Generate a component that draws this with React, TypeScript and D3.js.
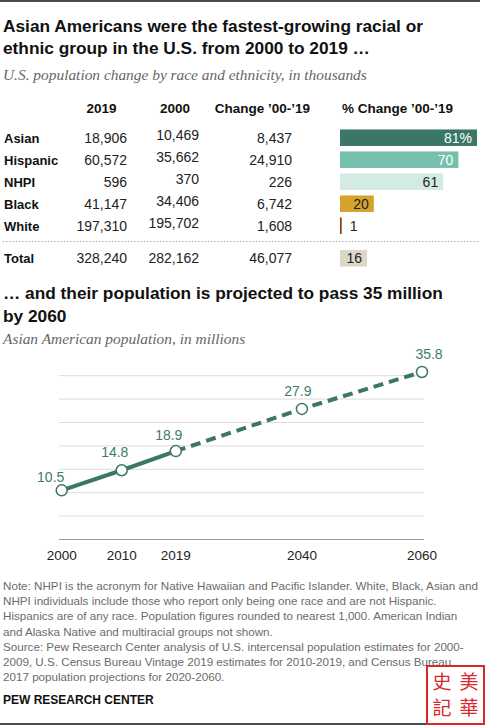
import React from 'react';
import * as d3 from 'd3';

// ---------- DATA ----------
const groups = ['Asian', 'Hispanic', 'NHPI', 'Black', 'White'];
const pop2019 = [18906, 60572, 596, 41147, 197310];
const pop2000 = [10469, 35662, 370, 34406, 195702];
const popChange = [8437, 24910, 226, 6742, 1608];
const pctChange = [81, 70, 61, 20, 1];
const totalLabel = 'Total';
const total2019 = 328240;
const total2000 = 282162;
const totalChange = 46077;
const totalPct = 16;

const years = [2000, 2010, 2019, 2040, 2060];
const asianPop = [10.5, 14.8, 18.9, 27.9, 35.8];
const lastEstimateYear = 2019;
const yTicks = [0, 5, 10, 15, 20, 25, 30, 35];

const headers = ['2019', '2000', 'Change ’00-’19', '% Change ’00-’19'];

const noteLines = [
  'Note: NHPI is the acronym for Native Hawaiian and Pacific Islander. White, Black, Asian and',
  'NHPI individuals include those who report only being one race and are not Hispanic.',
  'Hispanics are of any race. Population figures rounded to nearest 1,000. American Indian',
  'and Alaska Native and multiracial groups not shown.',
  'Source: Pew Research Center analysis of U.S. intercensal population estimates for 2000-',
  '2009, U.S. Census Bureau Vintage 2019 estimates for 2010-2019, and Census Bureau',
  '2017 population projections for 2020-2060.',
];

// ---------- STYLE ----------
const SANS = '"Liberation Sans", Arial, sans-serif';
const SERIF = '"Liberation Serif", "DejaVu Serif", serif';
const barColors: Record<string, string> = {
  Asian: '#3a7766',
  Hispanic: '#76bfad',
  NHPI: '#d3ebe4',
  Black: '#d5a32d',
  White: '#8a3d14',
};
const barTextColors: Record<string, string> = {
  Asian: '#fff',
  Hispanic: '#fff',
  NHPI: '#222',
  Black: '#222',
  White: '#222',
};
const totalColor = '#dbd6c5';
const green = '#3a7766';
const labelGreen = '#3d7c6a';
const labelNudge: Record<number, [number, number]> = {
  2000: [-11, -8.5],
  2010: [-7, -13],
  2019: [-7, -11],
  2040: [-4, -12.5],
  2060: [7, -12.5],
};

const fmt = d3.format(',');

export default function App() {
  const W = 486;
  const H = 726;

  // table layout
  const rowY = d3.scalePoint<string>().domain(groups).range([137.7, 225.7]);
  const barX = d3.scaleLinear().domain([0, 81]).range([340, 477]);
  const barH = 16.5;
  const col2019 = 127;
  const col2000 = 199;
  const colChange = 292;
  const headerX = [101.5, 175, 262.5, 397.5];
  const totalY = 258.3;

  // line chart layout
  const x = d3.scaleLinear().domain([2000, 2060]).range([61.7, 422]);
  const y = d3.scaleLinear().domain([0, 35]).range([539.5, 375.7]);
  const pts = years.map((yr, i) => ({ yr, v: asianPop[i] }));
  const line = d3
    .line<{ yr: number; v: number }>()
    .x((d) => x(d.yr))
    .y((d) => y(d.v));
  const solid = pts.filter((d) => d.yr <= lastEstimateYear);
  const dashed = pts.filter((d) => d.yr >= lastEstimateYear);

  return (
    <svg
      width={W}
      height={H}
      style={{ position: 'absolute', left: 0, top: 0, background: '#fff' }}
      fontFamily={SANS}
    >
      <rect width={W} height={H} fill="#fff" />
      <line x1={0} x2={480} y1={1} y2={1} stroke="#111" strokeWidth={1.6} />

      {/* Title 1 */}
      <text x={3} y={32} fontSize={17.3} fontWeight={700} fill="#111">
        Asian Americans were the fastest-growing racial or
      </text>
      <text x={3} y={54} fontSize={17.3} fontWeight={700} fill="#111">
        ethnic group in the U.S. from 2000 to 2019 …
      </text>
      <text x={3} y={80} fontSize={15.4} fontStyle="italic" fontFamily={SERIF} fill="#666">
        U.S. population change by race and ethnicity, in thousands
      </text>

      {/* headers */}
      {headers.map((h, i) => (
        <text key={h} x={headerX[i]} y={113} textAnchor="middle" fontSize={13.5} fontWeight={700} fill="#111">
          {h}
        </text>
      ))}

      {/* rows */}
      {groups.map((g, i) => {
        const cy = rowY(g)!;
        const bw = barX(pctChange[i]) - barX(0);
        const inside = pctChange[i] >= 10;
        const lbl = i === 0 ? `${pctChange[i]}%` : `${pctChange[i]}`;
        return (
          <g key={g}>
            <text x={4} y={cy + 5} fontSize={13} fontWeight={700} fill="#111">
              {g}
            </text>
            <text x={col2019} y={cy + 5} textAnchor="end" fontSize={14} fill="#222">
              {fmt(pop2019[i])}
            </text>
            <text x={col2000} y={cy + 2} textAnchor="end" fontSize={14} fill="#222">
              {fmt(pop2000[i])}
            </text>
            <text x={colChange} y={cy + 5} textAnchor="end" fontSize={14} fill="#222">
              {fmt(popChange[i])}
            </text>
            <rect
              x={barX(0)}
              y={cy - barH / 2}
              width={Math.max(bw, 1.2)}
              height={barH}
              fill={barColors[g]}
            />
            <text
              x={inside ? barX(pctChange[i]) - 5 : barX(pctChange[i]) + 8}
              y={cy + 5}
              textAnchor={inside ? 'end' : 'start'}
              fontSize={14}
              fill={inside ? barTextColors[g] : '#222'}
            >
              {lbl}
            </text>
          </g>
        );
      })}

      <line x1={3} x2={480} y1={241.5} y2={241.5} stroke="#999" strokeWidth={1} strokeDasharray="1.2 2" />

      {/* total */}
      <text x={4} y={totalY + 5} fontSize={13} fontWeight={700} fill="#111">
        {totalLabel}
      </text>
      <text x={col2019} y={totalY + 5} textAnchor="end" fontSize={14} fill="#222">
        {fmt(total2019)}
      </text>
      <text x={col2000} y={totalY + 5} textAnchor="end" fontSize={14} fill="#222">
        {fmt(total2000)}
      </text>
      <text x={colChange} y={totalY + 5} textAnchor="end" fontSize={14} fill="#222">
        {fmt(totalChange)}
      </text>
      <rect x={barX(0)} y={totalY - barH / 2} width={barX(totalPct) - barX(0)} height={barH} fill={totalColor} />
      <text x={barX(totalPct) - 5} y={totalY + 5} textAnchor="end" fontSize={14} fill="#222">
        {totalPct}
      </text>

      {/* Title 2 */}
      <text x={3} y={299} fontSize={17.3} fontWeight={700} fill="#111">
        … and their population is projected to pass 35 million
      </text>
      <text x={3} y={321.5} fontSize={17.3} fontWeight={700} fill="#111">
        by 2060
      </text>
      <text x={3} y={344} fontSize={15.4} fontStyle="italic" fontFamily={SERIF} fill="#666">
        Asian American population, in millions
      </text>

      {/* grid */}
      {yTicks.map((t) => (
        <line
          key={t}
          x1={59}
          x2={424}
          y1={y(t)}
          y2={y(t)}
          stroke={t === 0 ? '#9a9a9a' : '#dcdcdc'}
          strokeWidth={1}
        />
      ))}
      {years.map((yr) => (
        <text key={yr} x={x(yr)} y={560} textAnchor="middle" fontSize={13.5} fill="#222">
          {yr}
        </text>
      ))}

      <path d={line(solid) || ''} fill="none" stroke={green} strokeWidth={4} />
      <path d={line(dashed) || ''} fill="none" stroke={green} strokeWidth={4} strokeDasharray="10 6" />
      {pts.map((d) => (
        <circle key={d.yr} cx={x(d.yr)} cy={y(d.v)} r={5.5} fill="#fff" stroke={green} strokeWidth={1.5} />
      ))}
      {pts.map((d) => (
        <text
          key={'l' + d.yr}
          x={x(d.yr) + labelNudge[d.yr][0]}
          y={y(d.v) + labelNudge[d.yr][1]}
          textAnchor="middle"
          fontSize={14}
          fill={labelGreen}
        >
          {d.v.toFixed(1)}
        </text>
      ))}

      {/* notes */}
      {noteLines.map((l, i) => (
        <text key={i} x={3} y={590 + i * 15.2} fontSize={11.65} fill="#6b6b6b">
          {l}
        </text>
      ))}
      <text x={3} y={703.5} fontSize={12} fontWeight={700} fill="#111">
        PEW RESEARCH CENTER
      </text>
      <line x1={0} x2={480} y1={724} y2={724} stroke="#111" strokeWidth={1.6} />

      {/* stamp (watermark) */}
      <g>
        <rect x={427} y={666} width={57} height={58} fill="#fff" stroke="#d8282b" strokeWidth={2} />
        <g fontFamily='"Noto Sans CJK TC", "Noto Sans CJK SC", sans-serif' fontSize={19} fill="#d8282b" textAnchor="middle">
          <text x={469} y={689}>美</text>
          <text x={469} y={715}>華</text>
          <text x={442} y={689}>史</text>
          <text x={442} y={715}>記</text>
        </g>
      </g>
    </svg>
  );
}
